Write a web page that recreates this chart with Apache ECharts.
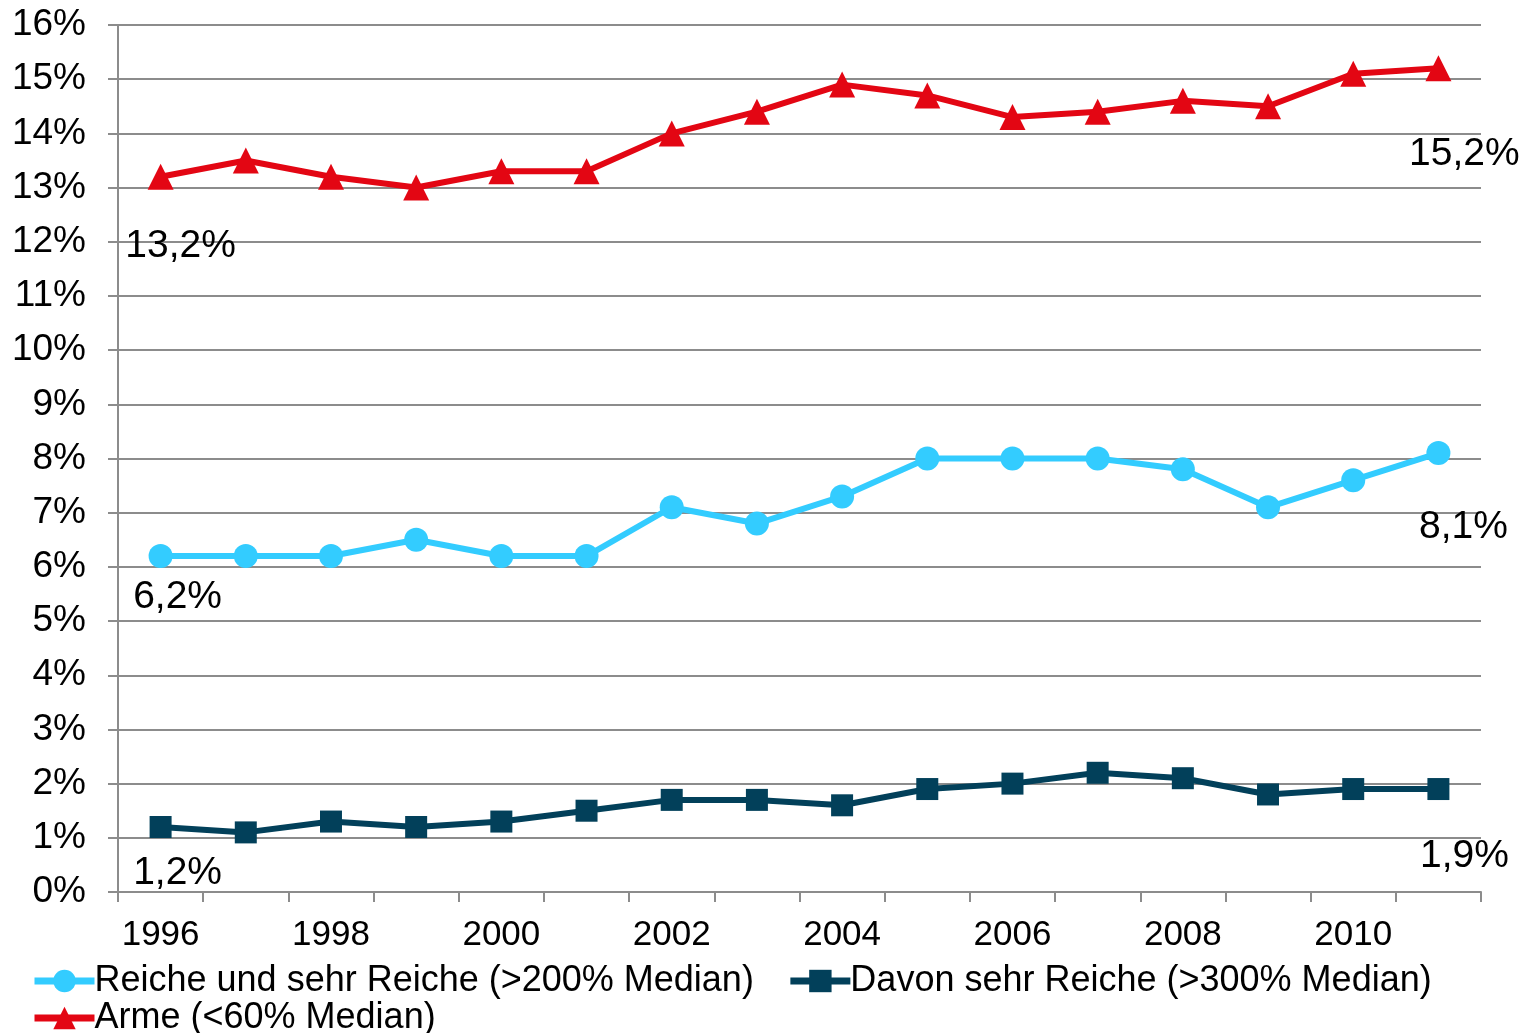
<!DOCTYPE html>
<html>
<head>
<meta charset="utf-8">
<script src="https://cdn.jsdelivr.net/npm/echarts@6/dist/echarts.min.js"></script>
<style>
  html, body { margin: 0; padding: 0; background: #fff; }
  #main { width: 1525px; height: 1033px; }
</style>
</head>
<body>
<div id="main"></div>
<script>
// Jahre und Anteile (in %)
var years = ['1996','1997','1998','1999','2000','2001','2002','2003','2004','2005','2006','2007','2008','2009','2010','2011'];
var reicheName = 'Reiche und sehr Reiche (>200% Median)';
var sehrReicheName = 'Davon sehr Reiche (>300% Median)';
var armeName = 'Arme (<60% Median)';
var reiche = [6.2, 6.2, 6.2, 6.5, 6.2, 6.2, 7.1, 6.8, 7.3, 8.0, 8.0, 8.0, 7.8, 7.1, 7.6, 8.1];
var sehrReiche = [1.2, 1.1, 1.3, 1.2, 1.3, 1.5, 1.7, 1.7, 1.6, 1.9, 2.0, 2.2, 2.1, 1.8, 1.9, 1.9];
var arme = [13.2, 13.5, 13.2, 13.0, 13.3, 13.3, 14.0, 14.4, 14.9, 14.7, 14.3, 14.4, 14.6, 14.5, 15.1, 15.2];

var fontFam = 'Liberation Sans, Arial, sans-serif';

// nur erster und letzter Wert bekommen eine Beschriftung
function withLabels(values, firstOffset, lastOffset) {
	return values.map(function(v, i) {
		if (i === 0 || i === values.length - 1) {
			return {
				value: v,
				label: {
					show: true,
					position: 'inside',
					offset: i === 0 ? firstOffset : lastOffset,
					formatter: function(p) { return p.value.toFixed(1).replace('.', ',') + '%'; },
					color: '#000',
					fontSize: 39,
					fontFamily: fontFam
				}
			};
		}
		return v;
	});
}

function legendBox(top, names) {
	return {
		left: 31,
		top: top,
		itemWidth: 60,
		itemHeight: 28,
		itemGap: 33,
		padding: 0,
		lineStyle: { width: 7 },
		textStyle: {
			color: '#000',
			fontSize: 36,
			fontFamily: fontFam,
			padding: [0, 0, 0, -5]
		},
		data: names
	};
}

var myChart = echarts.init(document.getElementById('main'));
var option = {
	animation: false,
	backgroundColor: '#fff',
	grid: {
		left: 118,
		right: 44,
		top: 25,
		bottom: 141
	},
	legend: [
		legendBox(963, [reicheName, sehrReicheName]),
		legendBox(1000, [armeName])
	],
	xAxis: {
		type: 'category',
		data: years,
		boundaryGap: true,
		axisLine: { lineStyle: { color: '#8c8c8c', width: 2 } },
		axisTick: { show: true, interval: 0, length: 10, lineStyle: { color: '#8c8c8c', width: 2 } },
		axisLabel: {
			interval: 1,
			margin: 26,
			color: '#000',
			fontSize: 35,
			fontFamily: fontFam
		},
		splitLine: { show: false }
	},
	yAxis: {
		type: 'value',
		min: 0,
		max: 16,
		interval: 1,
		axisLine: { show: true, lineStyle: { color: '#8c8c8c', width: 2 } },
		axisTick: { show: true, length: 10, lineStyle: { color: '#8c8c8c', width: 2 } },
		axisLabel: {
			formatter: '{value}%',
			margin: 32,
			color: '#000',
			fontSize: 37,
			fontFamily: fontFam
		},
		splitLine: { show: true, lineStyle: { color: '#8c8c8c', width: 2 } }
	},
	series: [
		{
			name: reicheName,
			type: 'line',
			data: withLabels(reiche, [17, 41], [25, 74]),
			symbol: 'circle',
			symbolSize: 24,
			lineStyle: { width: 6, color: '#33ccff' },
			itemStyle: { color: '#33ccff' },
			z: 3
		},
		{
			name: sehrReicheName,
			type: 'line',
			data: withLabels(sehrReiche, [17, 46], [26, 67]),
			symbol: 'rect',
			symbolSize: 22,
			lineStyle: { width: 6, color: '#02405a' },
			itemStyle: { color: '#02405a' },
			z: 3
		},
		{
			name: armeName,
			type: 'line',
			data: withLabels(arme, [20, 70], [26, 86]),
			symbol: 'triangle',
			symbolSize: 26,
			lineStyle: { width: 6, color: '#e30613' },
			itemStyle: { color: '#e30613' },
			z: 3
		}
	]
};
myChart.setOption(option);
</script>
</body>
</html>
